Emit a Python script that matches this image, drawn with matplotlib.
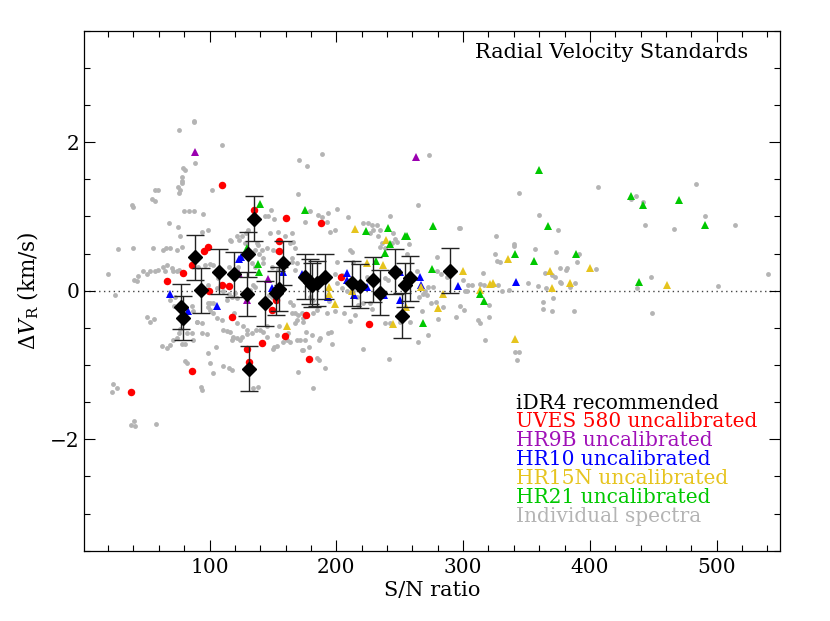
import matplotlib
matplotlib.use('Agg')
import matplotlib.pyplot as plt
from matplotlib.ticker import MultipleLocator

plt.rcParams['font.family'] = 'DejaVu Serif'
plt.rcParams['mathtext.fontset'] = 'dejavuserif'

# individual spectra (grey dots)
gray_sn = [88, 87.5, 76.2, 109.6, 88.6, 78.9, 80.7, 78, 78, 78, 75.5, 76.8, 76.2, 57, 59, 101.7, 55, 57, 38.6, 40,
           80, 84, 88, 94.6, 68.3, 75.4, 94, 99, 76.8, 117, 123.6, 125.4, 129, 130.7, 138.6, 136, 147.8, 143.8, 146.5, 151,
           148.6, 28, 39.4, 55.7, 63.1, 65.7, 68.9, 74.1, 78, 66.2, 63.6, 65, 70.2, 71.5, 74.1, 76, 59.7, 57, 53.1, 50.5,
           47.8, 43.9, 40.7, 42.6, 20.2, 25.5, 91.2, 96.5, 100.4, 103.1, 99.1, 105.7, 107, 115, 121.5, 122.8, 111, 115, 117.5, 120,
           114, 121.5, 98.6, 100.4, 100.4, 103, 105.7, 109.6, 90.4, 93.9, 86, 86.7, 50.5, 53.1, 56.5, 68.9, 68.1, 72.8, 72.3, 76.8,
           76.2, 74.1, 71.5, 78, 80.7, 62.3, 66.2, 68.8, 93.9, 97.8, 111, 113.6, 116.2, 118.9, 117.5, 124.1, 125.4, 129.4, 121.5, 119.6,
           136.5, 139.9, 142.5, 145.1, 151.2, 153, 155.1, 104.9, 99.1, 100.4, 80.7, 82, 111, 115, 117.5, 102.5, 93.3, 93.8, 138.6, 134.6,
           24.1, 26.8, 22.9, 38.1, 40.7, 41.3, 57.8, 147.2, 149.1, 134.1, 132, 136, 139.4, 142.5, 149.1, 154.4, 150.4, 153, 159.6, 82,
           85.9, 87.2, 89.9,
           188.5, 170.6, 176.6, 170, 179.3, 185.3, 188.5, 193.7, 200.3, 193, 195, 199, 175.3, 209, 164.8, 153.7, 166.1, 221.3, 225.3, 228,
           231.9, 234.5, 229.2, 226.6, 233.2, 234.5, 235.8, 238.4, 242.4, 246.3, 245, 247.6, 243.7, 264.7, 297.6, 279.2, 255.5, 212.7, 200.3, 204.3,
           199, 213.5, 208.2, 213, 216.1, 224, 226.1, 238.4, 241.1, 226.6, 227.9, 221.3, 217.4, 206.1, 210.8, 214.8, 194.5, 199, 195.8, 193.7,
           196.4, 191.1, 186.6, 184.5, 181.4, 169.5, 176.1, 180.6, 175.3, 168.7, 174, 172.7, 178.7, 186.6, 187.2, 150.3, 158.2, 161.4, 163.7, 162.2,
           167.4, 164.8, 170.1, 172.7, 174, 221.3, 241.9, 238.4, 242.4, 250.3, 258.2, 264.7, 272.1, 267.4, 274.7, 278.4, 280.5, 284.5, 294.2, 297.6,
           301, 304.2, 302.9, 276.6, 272.6, 270, 271.3, 265.3, 268.2, 263.4, 258.2, 257.6, 279.2, 282.6, 287.1, 179.3, 181.9, 167.4, 164.8, 200.3,
           204.3, 210.8, 273.1,
           116.2, 121.4, 128, 137.2, 141.1, 145.1, 163.5, 167.4, 164.8, 168.7, 133.2, 135.9, 142.5, 103, 99, 167.4, 168.7, 174, 181.9, 184.5,
           192.4, 163.5, 166.1, 126.7, 129.3, 133.2, 118.8, 121.4, 145.1, 153, 171.4,
           344.2, 360.2, 325.7, 297, 340.5, 340.5, 325.2, 326.5, 329.2, 356.8, 373.1, 374.7, 376.5, 381.2, 381.8, 389.7, 391.8, 404.9, 406.7, 364.7,
           372.6, 370, 376.5, 377, 388.3, 384.4, 358.9, 351, 365.5, 336.5, 330.5, 327.8, 323.9, 315.5, 313.4, 316.5, 300.2, 301.5, 306.8, 312.1,
           313.4, 320.7, 320.5, 317.3, 362.8, 362.8, 370.7, 370.5, 387.8, 341, 344.4, 342.8, 437, 448.3, 448.8, 432.5, 436.5, 443.6, 441.7, 466.7,
           483.8, 490.9, 514.6, 500.9, 540.9]
gray_dv = [2.29, 2.27, 2.16, 1.96, 1.72, 1.65, 1.62, 1.53, 1.48, 1.45, 1.39, 1.36, 1.31, 1.36, 1.36, 1.36, 1.23, 1.21, 1.15, 1.13,
           1.07, 1.07, 1.07, 1.03, 0.91, 0.86, 0.79, 0.82, 0.74, 0.67, 0.68, 0.73, 0.77, 0.82, 0.62, 0.55, 0.77, 1.0, 1.0, 0.97,
           1.09, 0.56, 0.57, 0.57, 0.55, 0.58, 0.58, 0.55, 0.59, 0.35, 0.32, 0.26, 0.31, 0.26, 0.27, 0.28, 0.28, 0.26, 0.26, 0.23,
           0.27, 0.2, 0.14, 0.13, 0.23, -0.06, 0.32, 0.35, 0.36, 0.34, 0.08, 0.03, 0.17, 0.32, 0.28, 0.32, -0.01, -0.04, -0.08, -0.03,
           -0.12, -0.1, -0.17, -0.17, -0.26, -0.3, -0.37, -0.39, -0.42, -0.44, -0.21, -0.27, -0.35, -0.42, -0.38, -0.13, -0.06, -0.08, -0.21, -0.51,
           -0.57, -0.64, -0.66, -0.72, -0.72, -0.75, -0.77, -0.73, -0.57, -0.58, -0.53, -0.54, -0.55, -0.64, -0.67, -0.66, -0.62, -0.58, -0.44, -0.3,
           -0.53, -0.53, -0.55, -0.48, -0.76, -0.74, -0.47, -0.76, -0.84, -0.98, -0.95, -0.98, -1.02, -1.04, -1.07, -1.11, -1.29, -1.34, -1.29, -1.31,
           -1.25, -1.31, -1.36, -1.81, -1.76, -1.82, -1.79, -0.06, -0.08, 0.08, 0.01, 0.05, 0.5, 0.44, 0.32, 0.29, 0.55, 0.54, 0.74, -0.57,
           -0.57, -0.66, -0.42,
           1.84, 1.76, 1.68, 1.3, 1.07, 1.02, 0.99, 1.04, 1.1, 0.93, 0.79, 0.82, 0.93, 0.99, 0.77, 0.79, 0.66, 0.91, 0.91, 0.89,
           0.88, 0.82, 0.82, 0.77, 0.73, 0.59, 0.64, 0.57, 1.0, 0.7, 0.77, 0.66, 0.64, 1.15, 0.84, 0.45, 0.5, 0.52, 0.38, 0.21,
           0.23, 0.39, -0.01, -0.01, -0.08, 0.19, 0.14, 0.17, 0.14, -0.17, -0.24, -0.17, -0.19, -0.3, -0.41, -0.33, -0.14, -0.27, -0.55, -0.57,
           -0.72, -1.04, -0.93, -0.91, -1.31, -1.09, -0.55, -0.6, -0.66, -0.66, -0.8, -0.8, -0.76, -0.66, -0.64, -0.79, -0.69, -0.67, -0.69, -0.57,
           -0.44, -0.3, -0.33, -0.3, -0.42, -0.78, -0.92, -0.43, -0.43, -0.42, -0.42, -0.69, -0.6, -0.28, -0.17, -0.15, -0.38, -0.22, -0.36, -0.2,
           -0.26, 0.07, 0.0, 0.05, 0.05, -0.01, -0.06, -0.08, -0.04, 0.26, 0.24, 0.63, 0.26, 0.22, 0.19, -0.08, -0.13, 0.28, 0.39, 0.1,
           0.03, 0.55, 1.83,
           0.68, 0.73, 0.64, 0.64, 0.55, 0.57, 0.64, 0.57, 0.44, 0.37, 0.37, 0.32, 0.37, -0.17, -0.22, -0.3, -0.39, -0.37, -0.3, -0.26,
           -0.3, -0.15, -0.19, -0.48, -0.53, -0.57, -0.62, -0.64, -0.62, -0.6, -0.66,
           1.31, 1.02, 0.74, 0.85, 0.63, 0.6, 0.5, 0.4, 0.39, 0.56, 0.52, 0.82, 0.31, 0.28, 0.3, 0.39, 0.49, 0.29, 1.4, 0.24,
           0.19, 0.21, 0.12, 0.1, 0.1, 0.05, 0.06, 0.1, 0.03, 0.01, 0.0, 0.08, 0.08, 0.24, 0.09, 0.08, 0.14, -0.01, 0.07, -0.39,
           -0.43, -0.35, -0.19, -0.66, -0.15, -0.24, -0.1, -0.27, -0.27, -0.82, -0.82, -0.93, 0.03, 0.18, -0.3, 1.24, 1.27, 0.88, 1.2, 0.83,
           1.44, 1.0, 0.88, 0.06, 0.22]

# UVES 580 uncalibrated
uves_sn = [109.6, 135.3, 160.2, 96, 98.6, 86, 79.3, 66.2, 99.6, 110, 115.6, 117.5, 154.8, 154.8, 149.5, 141.2, 129.8, 130.9,
           86.4, 38, 159.5, 176.5, 188, 203.6, 178.2, 226, 152.4]
uves_dv = [1.42, 1.08, 0.98, 0.54, 0.59, 0.34, 0.24, 0.13, 0.0, 0.08, 0.06, -0.35, 0.67, 0.53, -0.26, -0.70, -0.79, -0.96,
           -1.08, -1.36, -0.61, -0.33, 0.91, 0.18, -0.92, -0.45, -0.12]

# HR9B uncalibrated
hr9b_sn = [88.6, 146.4, 129.6, 123, 262.8]
hr9b_dv = [1.87, 0.16, -0.13, 0.22, 1.80]

# HR10 uncalibrated
hr10_sn = [68.8, 83.3, 106.1, 123.4, 124.7, 149.4, 157.6, 173.3, 193.6, 208.7, 208.7, 214.1, 224.4, 237.9, 250.2, 250.2,
           266, 266.5, 295.7, 341.8]
hr10_dv = [-0.05, -0.27, -0.21, 0.43, 0.46, 0.04, 0.25, 0.225, -0.09, 0.24, 0.14, -0.06, 0.054, -0.06, -0.125, 0.256,
           0.18, 0.077, 0.067, 0.12]

# HR15N uncalibrated
hr15_sn = [214.7, 239.3, 237.2, 224.4, 194.3, 194.3, 198.8, 161.4, 212.2, 244.7, 255, 266.7, 284.4, 280, 300.2, 313.3,
           321.5, 323.6, 335.6, 340.9, 368.5, 370.3, 384.3, 400.1, 460.6]
hr15_dv = [0.83, 0.68, 0.35, 0.37, 0.054, -0.05, -0.18, -0.47, 0.0, -0.45, -0.215, 0.054, -0.05, -0.23, 0.27, 0.01,
           0.086, 0.11, 0.43, -0.65, 0.27, 0.04, 0.11, 0.30, 0.077]

# HR21 uncalibrated
hr21_sn = [140, 129.3, 138.6, 139.1, 175.1, 223.8, 240.4, 254.2, 255.5, 242.2, 238.3, 231.2, 276.5, 275.7, 268.1, 359.7,
           432.3, 441.6, 470.5, 366.7, 490.8, 340.6, 356.3, 388.8, 439, 313.3, 316.7]
hr21_dv = [1.17, 0.57, 0.355, 0.25, 1.09, 0.80, 0.84, 0.73, 0.73, 0.63, 0.51, 0.40, 0.875, 0.29, -0.44, 1.62,
           1.28, 1.16, 1.22, 0.87, 0.89, 0.49, 0.40, 0.49, 0.12, -0.05, -0.14]

# iDR4 recommended (per star)
rec_sn = [77.5, 78.9, 88.6, 93.3, 107.7, 119, 130.6, 135.1, 129.6, 144, 131, 152.8, 154.8, 158.2, 175.3, 179.2, 180.5,
          184.5, 191.2, 212.2, 218.7, 229.2, 234.5, 246.3, 252, 254.2, 258.2, 289.6]
rec_dv = [-0.215, -0.37, 0.45, 0.005, 0.256, 0.22, 0.49, 0.97, -0.045, -0.17, -1.05, -0.03, 0.02, 0.37, 0.188, 0.12, 0.077,
          0.1, 0.19, 0.1, 0.063, 0.15, -0.027, 0.256, -0.336, 0.077, 0.167, 0.27]
rec_err = [0.3] * len(rec_sn)

legend_labels = ['iDR4 recommended', 'UVES 580 uncalibrated', 'HR9B uncalibrated', 'HR10 uncalibrated',
                 'HR15N uncalibrated', 'HR21 uncalibrated', 'Individual spectra']
legend_colors = ['black', '#ff0000', '#a010b8', '#0000ff', '#e6c41e', '#00c800', '#b4b4b4']

fig = plt.figure(figsize=(8.3, 6.21), dpi=100)
ax = fig.add_axes([0.1012, 0.1132, 0.8386, 0.8374])

ax.axhline(0, color='#444444', ls=(0, (1, 2.5)), lw=1, zorder=1)

ax.plot(gray_sn, gray_dv, 'o', color='#b4b4b4', ms=3.5, mew=0, zorder=2)
ax.plot(uves_sn, uves_dv, 'o', color='#ff0000', ms=5.4, mew=0, zorder=3)
ax.plot(hr9b_sn, hr9b_dv, '^', color='#9a00b0', ms=6.2, mew=0, zorder=3)
ax.plot(hr10_sn, hr10_dv, '^', color='#0000ff', ms=6.2, mew=0, zorder=3)
ax.plot(hr15_sn, hr15_dv, '^', color='#e6c41e', ms=6.2, mew=0, zorder=3)
ax.plot(hr21_sn, hr21_dv, '^', color='#00c800', ms=6.2, mew=0, zorder=3)
ax.errorbar(rec_sn, rec_dv, yerr=rec_err, fmt='D', color='black', ms=7.2, ecolor='#222222',
            elinewidth=1, capsize=6.8, capthick=1, zorder=5)

ax.set_xlim(1, 550)
ax.set_ylim(-3.5, 3.5)
ax.xaxis.set_major_locator(MultipleLocator(100))
ax.xaxis.set_minor_locator(MultipleLocator(20))
ax.yaxis.set_major_locator(MultipleLocator(2))
ax.yaxis.set_minor_locator(MultipleLocator(0.5))
ax.tick_params(which='both', direction='in', top=True, right=True, labelsize=14.5, width=0.8)
ax.tick_params(which='major', length=8)
ax.tick_params(which='minor', length=4)
ax.tick_params(axis='x', which='major', pad=5)
for s in ax.spines.values():
    s.set_linewidth(0.9)

ax.set_xlabel('S/N ratio', fontsize=15, labelpad=3)
ax.set_ylabel(r'$\Delta V_{\rm R}$ (km/s)', fontsize=15.5, labelpad=6)

ax.text(0.955, 0.958, 'Radial Velocity Standards', transform=ax.transAxes, ha='right', va='center', fontsize=15)

for i, (lab, col) in enumerate(zip(legend_labels, legend_colors)):
    ax.text(0.621, 0.284 - 0.0365 * i, lab, color=col, transform=ax.transAxes, ha='left', va='center', fontsize=14.5)

fig.savefig('out.png', dpi=100)
